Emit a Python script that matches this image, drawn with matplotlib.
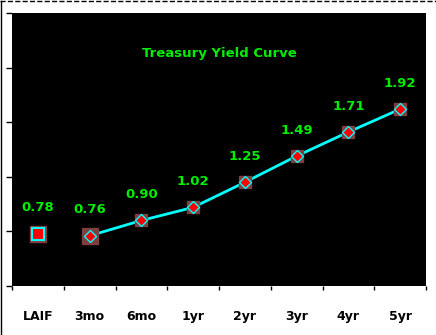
import numpy as np
import matplotlib.pyplot as plt
from matplotlib.lines import Line2D

categories = ["LAIF", "3mo", "6mo", "1yr", "2yr", "3yr", "4yr", "5yr"]
laif_yield = [0.78]
curve_terms = ["3mo", "6mo", "1yr", "2yr", "3yr", "4yr", "5yr"]
curve_yield = [0.76, 0.90, 1.02, 1.25, 1.49, 1.71, 1.92]

fig = plt.figure(figsize=(4.36, 3.35), dpi=100)
fig.patch.set_facecolor("white")
ax = fig.add_axes([12/436, 49/335, 414/436, 273/335])
ax.set_facecolor("black")

x = np.arange(len(categories))
xc = x[1:]

# LAIF point
ax.plot([0], laif_yield, linestyle="none", marker="s", ms=12,
        mfc="#7f3f3f", mec="#7f3f3f", zorder=3)
ax.plot([0], laif_yield, linestyle="none", marker="s", ms=8,
        mfc="red", mec="cyan", mew=1.5, zorder=4)

# treasury curve
ax.plot(xc, curve_yield, color="cyan", lw=2, zorder=2)
ax.plot(xc[:1], curve_yield[:1], linestyle="none", marker="s", ms=12,
        mfc="#7f3f3f", mec="#7f3f3f", zorder=3)
ax.plot(xc[1:], curve_yield[1:], linestyle="none", marker="s", ms=8,
        mfc="#7f3f3f", mec="#7f3f3f", zorder=3)
ax.plot(xc, curve_yield, linestyle="none", marker="D", ms=6,
        mfc="red", mec="cyan", mew=1, zorder=4)

for xi, v in zip(x, laif_yield + curve_yield):
    ax.annotate(f"{v:.2f}", (xi, v), xytext=(0, 14), textcoords="offset points",
                ha="center", va="bottom", color="#00ee00", fontsize=9.5,
                fontweight="bold")

ax.text(0.5, 0.853, "Treasury Yield Curve", transform=ax.transAxes,
        ha="center", va="center", color="#00ee00", fontsize=9.5,
        fontweight="bold")

ax.set_xlim(-0.5, len(categories) - 0.5)
ax.set_ylim(0.3, 2.8)
ax.set_yticks(np.arange(0.3, 2.81, 0.5))
ax.set_yticklabels([])
ax.tick_params(axis="y", length=4, width=1, direction="out", color="black")

ax.set_xticks(x)
ax.set_xticklabels(categories, fontsize=9, fontweight="bold")
ax.tick_params(axis="x", which="major", length=0, pad=17)
ax.set_xticks(np.arange(-0.5, len(categories), 1), minor=True)
ax.tick_params(axis="x", which="minor", length=3, width=1, direction="out",
               color="black")

for s in ax.spines.values():
    s.set_visible(False)

# chart border: dashed top, solid left
fig.add_artist(Line2D([0, 1], [0.998, 0.998], transform=fig.transFigure,
                      color="black", lw=1, linestyle="--"))
fig.add_artist(Line2D([0.003, 0.003], [0, 0.998], transform=fig.transFigure,
                      color="black", lw=1))

fig.savefig("out.png", dpi=100)
